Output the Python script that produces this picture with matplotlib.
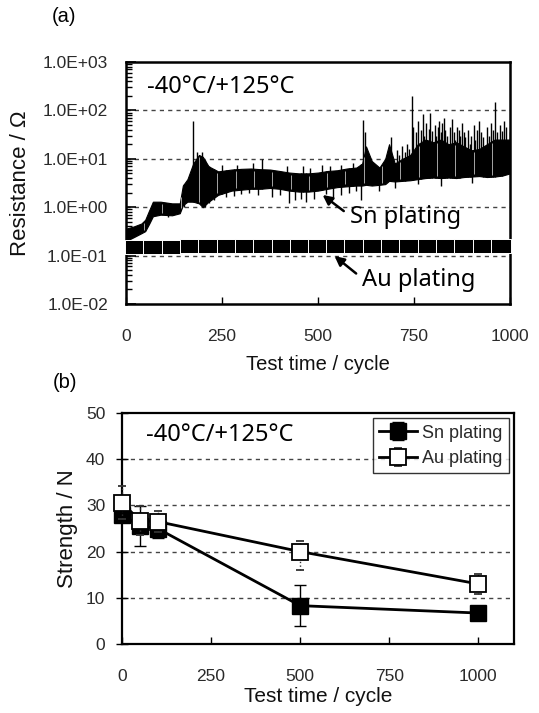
import matplotlib
matplotlib.use('Agg')
import matplotlib.pyplot as plt
import numpy as np

#%% data (a) resistance vs cycles
sn_cycle = [0, 20, 40, 50, 60, 70, 90, 120, 140, 148, 160, 175, 190, 200, 215, 240, 275, 300, 325, 350,
            375, 400, 425, 450, 475, 500, 525, 550, 575, 600, 615, 625, 640, 660, 675, 685, 700, 720, 740, 760,
            780, 800, 820, 840, 860, 880, 900, 920, 940, 960, 980, 1000]
sn_low = [0.20, 0.24, 0.29, 0.32, 0.45, 0.65, 0.70, 0.68, 0.75, 1.1, 1.3, 1.3, 1.2, 1.0, 1.3, 1.8, 2.2, 2.3, 2.4, 2.4,
          2.5, 2.4, 2.2, 2.1, 2.1, 2.2, 2.4, 2.6, 2.7, 2.8, 2.8, 2.9, 2.8, 2.9, 3.0, 3.5, 3.4, 3.5, 3.6, 3.8,
          4.0, 4.1, 4.0, 4.1, 4.0, 4.2, 4.3, 4.4, 4.2, 4.3, 4.5, 5.0]
sn_high = [0.36, 0.40, 0.46, 0.55, 0.85, 1.3, 1.3, 1.2, 1.2, 2.8, 3.8, 8, 12, 11, 7, 5.5, 6.0, 6.2, 6.3, 6.1,
           6.0, 5.6, 5.2, 5.0, 5.0, 5.2, 5.6, 5.8, 6.3, 6.6, 8, 18, 9, 6.6, 10, 20, 8, 10, 12, 20,
           25, 22, 25, 20, 22, 18, 15, 16, 20, 25, 25, 25]

spike_up_x = [174, 185, 197, 250, 290, 330, 354, 420, 460, 480, 510, 530, 560, 590, 617, 622, 690,
              705, 712, 718, 726, 733, 738, 744, 748, 756, 760, 769, 773, 777, 781, 789, 792, 796, 804, 808,
              812, 815, 820, 824, 828, 832, 836, 845, 850, 855, 858, 862, 866, 870, 875, 880, 884, 890,
              895, 898, 905, 910, 914, 920, 925, 930, 940, 945, 950, 955, 960, 965, 975, 980, 985, 990, 1000]
spike_up_y = [60, 14, 14, 7.5, 7.5, 8, 10, 7, 7, 6.5, 7.6, 7, 7.5, 8, 62, 35, 28,
              15, 12, 18, 14, 20, 16, 200, 45, 35, 60, 40, 85, 30, 55, 42, 88, 38, 50, 30,
              45, 60, 35, 55, 70, 40, 30, 45, 65, 35, 25, 45, 40, 30, 55, 35, 28, 40,
              20, 30, 50, 25, 40, 60, 35, 28, 45, 30, 55, 40, 150, 35, 50, 38, 60, 45, 35]
spike_dn_x = [110, 150, 205, 215, 230, 260, 280, 300, 320, 345, 380, 400, 425, 440, 455, 470, 490, 520,
              540, 560, 580, 600, 612, 660, 700, 760, 820, 900]
spike_dn_y = [0.62, 1.0, 1.0, 1.2, 1.4, 1.6, 1.7, 1.9, 2.0, 1.8, 1.6, 1.8, 1.2, 1.4, 1.5, 1.3, 1.5, 1.9,
              1.5, 1.8, 2.0, 2.2, 1.4, 2.2, 2.5, 3.0, 2.8, 3.2]

au_cycle = [24, 71, 119, 167, 214, 262, 310, 357, 405, 452, 500, 548, 595, 643, 690, 738, 786, 833, 881, 929, 976]
au_res = [0.150, 0.150, 0.150, 0.155, 0.158, 0.158, 0.158, 0.158, 0.158, 0.158, 0.158, 0.158, 0.158, 0.160,
          0.160, 0.160, 0.160, 0.160, 0.160, 0.160, 0.160]

res_ticks = [1e-2, 1e-1, 1e0, 1e1, 1e2, 1e3]
res_labels = ['1.0E-02', '1.0E-01', '1.0E+00', '1.0E+01', '1.0E+02', '1.0E+03']

#%% data (b) strength vs cycles
str_cycle = [0, 50, 100, 500, 1000]
sn_str = [28.0, 25.5, 25.0, 8.3, 6.7]
sn_err = [1.5, 4.3, 2.0, 4.4, 0.5]
au_str = [30.6, 26.7, 26.5, 20.0, 13.0]
au_err_lo = [3.5, 3.1, 2.2, 3.9, 2.1]
au_err_hi = [3.5, 3.1, 2.2, 2.2, 2.1]

plt.rcParams['font.family'] = ['Liberation Sans', 'DejaVu Sans']
TXT = '#2a2a2a'
GRID = dict(color='#444444', ls=(0, (3, 3)), lw=1.0)
NOTE = ['Noto Sans', 'DejaVu Sans']
ARROW = dict(arrowstyle='-|>', color='black', lw=1.8, mutation_scale=14, shrinkA=3, shrinkB=0, relpos=(0, 0.55))

fig = plt.figure(figsize=(5.39, 7.13), dpi=100)

#%% panel (a)
ax = fig.add_axes([126/539, 1-304/713, 384/539, 242/713])
ax.set_yscale('log')
ax.set_xlim(0, 1000)
ax.set_ylim(1e-2, 1e3)
for v in res_ticks[1:-1]:
    ax.axhline(v, zorder=0, **GRID)

ax.fill_between(sn_cycle, sn_low, sn_high, color='black', lw=0.8, zorder=2)
ax.vlines(spike_up_x, np.interp(spike_up_x, sn_cycle, sn_low), spike_up_y, color='black', lw=1.0, zorder=2)
ax.vlines(spike_dn_x, spike_dn_y, np.interp(spike_dn_x, sn_cycle, sn_high), color='black', lw=1.0, zorder=2)

# thin white seams seen through the Sn trace, at the Au marker joints
seams = [(a + b) / 2 for a, b in zip(au_cycle[:-1], au_cycle[1:])]
ax.vlines(seams, np.interp(seams, sn_cycle, sn_low) * 1.1, np.interp(seams, sn_cycle, sn_high) * 0.9,
          color='white', lw=0.45, zorder=2.5)

rect = [(-1, -0.66), (1, -0.66), (1, 0.66), (-1, 0.66), (-1, -0.66)]
ax.plot(au_cycle, au_res, ls='none', marker=rect, markersize=14.2, mfc='black', mec='white', mew=0.7,
        zorder=3, clip_on=False)

ax.set_yticks(res_ticks)
ax.set_yticklabels(res_labels)
ax.set_xticks([0, 250, 500, 750, 1000])
ax.tick_params(axis='y', which='major', direction='in', length=7, width=1.2, pad=13, labelsize=12.5, labelcolor=TXT)
ax.tick_params(axis='y', which='minor', direction='in', length=4, width=1.0)
ax.tick_params(axis='x', direction='in', length=5, width=1.0, pad=18, labelsize=12.5, labelcolor=TXT)
for s in ax.spines.values():
    s.set_linewidth(1.8)
ax.set_ylabel('Resistance / \u03a9', fontsize=16, labelpad=8, color='#111')
ax.set_xlabel('Test time / cycle', fontsize=14.5, labelpad=8, color='#111')

ax.text(0.055, 0.895, '-40\u00b0C/+125\u00b0C', transform=ax.transAxes, fontsize=17, family=NOTE,
        va='center', ha='left')
ax.annotate('Sn plating', xy=(512, 1.79), xytext=(583, 0.63), fontsize=17, family=NOTE,
            va='center', ha='left', arrowprops=ARROW)
ax.annotate('Au plating', xy=(543, 0.098), xytext=(615, 0.032), fontsize=17, family=NOTE,
            va='center', ha='left', arrowprops=ARROW)
fig.text(52/539, 1-17/713, '(a)', fontsize=14.5, va='center', ha='left')

#%% panel (b)
ax2 = fig.add_axes([122/539, 1-644/713, 392/539, 231/713])
ax2.set_xlim(0, 1100)
ax2.set_ylim(0, 50)
for v in [10, 20, 30, 40]:
    ax2.axhline(v, zorder=0, **GRID)

eb = ax2.errorbar(str_cycle, sn_str, yerr=sn_err, color='black', lw=2.0, marker='s', markersize=11,
                  mfc='black', mec='black', ecolor='black', elinewidth=1.0, capsize=4, capthick=1.0,
                  label='Sn plating', zorder=3, clip_on=False)
eb2 = ax2.errorbar(str_cycle, au_str, yerr=[au_err_lo, au_err_hi], color='black', lw=2.0, marker='s',
                   markersize=11, mfc='white', mec='black', mew=1.3, ecolor='#333333', elinewidth=1.0,
                   capsize=3, capthick=1.0, label='Au plating', zorder=4, clip_on=False)
eb2[2][0].set_linestyle(':')
for c in list(eb[1]) + list(eb2[1]) + list(eb[2]) + list(eb2[2]):
    c.set_clip_on(False)

ax2.set_xticks([0, 250, 500, 750, 1000])
ax2.set_yticks([0, 10, 20, 30, 40, 50])
ax2.tick_params(axis='y', direction='inout', length=8, width=1.0, pad=8, labelsize=12.5, labelcolor=TXT)
ax2.tick_params(axis='x', direction='in', length=5, width=1.0, pad=18, labelsize=12.5, labelcolor=TXT)
for s in ax2.spines.values():
    s.set_linewidth(1.6)
ax2.set_ylabel('Strength / N', fontsize=16, labelpad=6, color='#111')
ax2.set_xlabel('Test time / cycle', fontsize=15, labelpad=2, color='#111')

leg = ax2.legend(loc='upper right', fontsize=13, frameon=True, fancybox=False, handlelength=2.1,
                 handletextpad=0.25, borderpad=0.35, labelspacing=0.45, borderaxespad=0.3)
leg.get_frame().set_edgecolor('black')
leg.get_frame().set_linewidth(1.0)
for t in leg.get_texts():
    t.set_color(TXT)

ax2.text(0.06, 0.905, '-40\u00b0C/+125\u00b0C', transform=ax2.transAxes, fontsize=17, family=NOTE,
         va='center', ha='left')
fig.text(53/539, 1-383/713, '(b)', fontsize=14.5, va='center', ha='left')

fig.savefig('out.png', dpi=100)
